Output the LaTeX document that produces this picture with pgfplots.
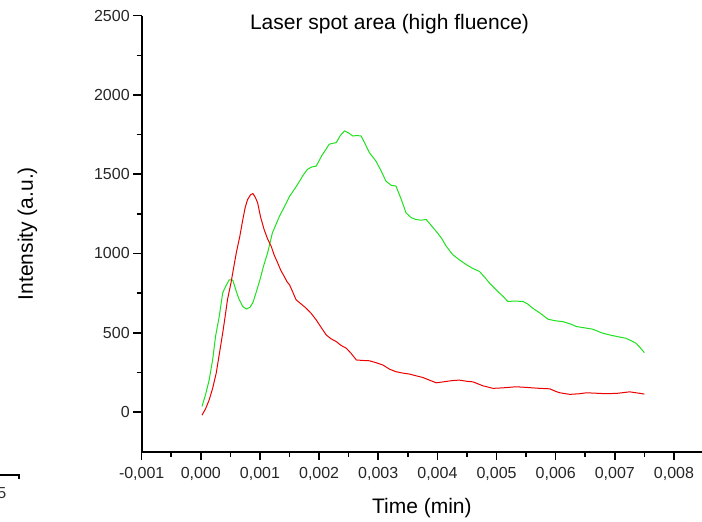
\documentclass[border=0pt]{standalone}
\usepackage{fontspec}
\setmainfont{Liberation Sans}
\usepackage{pgfplots}
\pgfplotsset{compat=1.18}
\definecolor{cgreen}{RGB}{30,225,30}
\definecolor{cred}{RGB}{235,0,0}
\begin{document}
\begin{tikzpicture}
\useasboundingbox (0,0) rectangle (702pt,522pt);
\begin{axis}[
  at={(141.7pt,70.4pt)}, anchor=south west,
  scale only axis, width=560.3pt, height=435.9pt,
  xmin=-0.001, xmax=0.008474, ymin=-250, ymax=2500,
  axis x line*=bottom, axis y line*=left,
  axis line style={-, line width=2pt},
  tick align=outside,
  major tick length=8.5pt, minor tick length=5pt,
  every tick/.style={black, line width=1.6pt},
  xtick={-0.001,0,0.001,0.002,0.003,0.004,0.005,0.006,0.007,0.008},
  xticklabels={{-0,001},{0,000},{0,001},{0,002},{0,003},{0,004},{0,005},{0,006},{0,007},{0,008}},
  minor x tick num=1,
  scaled x ticks=false,
  ytick={0,500,1000,1500,2000,2500},
  minor y tick num=1,
  yticklabel style={/pgf/number format/1000 sep={}},
  xticklabel style={yshift=-3.5pt},
  /pgf/number format/assume math mode=true,
  ticklabel style={font=\fontsize{16}{18}\selectfont, text=black!85},
  xlabel={Time (min)}, ylabel={Intensity (a.u.)},
  label style={font=\fontsize{21}{24}\selectfont},
  xlabel style={at={(axis description cs:0.5,-0.1271)}, anchor=center, yshift=-1.5pt},
  ylabel style={at={(axis description cs:-0.2038,0.5)}, anchor=center},
  title={Laser spot area (high fluence)},
  every axis title/.style={font=\fontsize{21}{24}\selectfont, at={(axis description cs:0.4423,0.9672)}, anchor=base},
  clip=false,
]
\addplot[cgreen, line width=1pt] coordinates {
(0.00002,35)(0.00008,110)(0.00014,200)(0.00020,330)(0.00025,480)(0.00031,600)
(0.00037,752)(0.00043,800)(0.00048,834)(0.00054,832)(0.00060,760)(0.00065,708)
(0.00071,665)(0.00077,649)(0.00083,660)(0.00088,690)(0.00094,760)(0.00100,835)
(0.00106,920)(0.00113,1005)(0.00121,1130)(0.00133,1235)(0.00142,1300)(0.00150,1360)
(0.00160,1415)(0.00167,1456)(0.00172,1488)(0.00180,1530)(0.00187,1545)(0.00195,1551)
(0.00205,1620)(0.00212,1660)(0.00217,1689)(0.00223,1695)(0.00229,1699)(0.00236,1745)
(0.00243,1773)(0.00250,1760)(0.00257,1741)(0.00264,1744)(0.00271,1741)(0.00278,1690)
(0.00285,1636)(0.00296,1583)(0.00305,1520)(0.00313,1456)(0.00322,1430)(0.00330,1425)
(0.00339,1340)(0.00347,1256)(0.00356,1225)(0.00364,1214)(0.00372,1210)(0.00381,1214)
(0.00390,1175)(0.00400,1130)(0.00408,1090)(0.00415,1045)(0.00426,992)(0.00437,960)
(0.00449,929)(0.00460,905)(0.00471,887)(0.00480,850)(0.00488,813)(0.00497,780)
(0.00505,750)(0.00512,725)(0.00519,697)(0.00530,700)(0.00545,697)(0.00553,680)
(0.00561,655)(0.00575,620)(0.00587,585)(0.00600,575)(0.00612,570)(0.00625,555)
(0.00635,539)(0.00650,530)(0.00663,522)(0.00677,500)(0.00691,486)(0.00705,475)
(0.00719,465)(0.00730,445)(0.00736,433)(0.00743,405)(0.00750,374)
};
\addplot[cred, line width=1pt] coordinates {
(0.00002,-20)(0.00008,20)(0.00014,75)(0.00020,150)(0.00026,245)(0.00031,360)
(0.00037,499)(0.00041,600)(0.00045,708)(0.00051,815)(0.00055,900)(0.00060,1005)
(0.00066,1110)(0.00071,1214)(0.00075,1290)(0.00079,1340)(0.00084,1370)(0.00088,1378)
(0.00092,1355)(0.00096,1320)(0.00101,1230)(0.00107,1151)(0.00113,1090)(0.00119,1045)
(0.00124,990)(0.00130,940)(0.00135,895)(0.00141,855)(0.00146,820)(0.00150,802)
(0.00155,760)(0.00161,708)(0.00170,680)(0.00178,655)(0.00187,620)(0.00195,581)
(0.00204,530)(0.00212,486)(0.00220,462)(0.00229,444)(0.00237,420)(0.00246,402)
(0.00254,370)(0.00263,328)(0.00274,325)(0.00285,323)(0.00297,310)(0.00308,296)
(0.00319,270)(0.00330,254)(0.00342,245)(0.00353,239)(0.00364,228)(0.00375,218)
(0.00387,200)(0.00398,184)(0.00410,190)(0.00425,198)(0.00437,201)(0.00449,194)
(0.00460,190)(0.00477,165)(0.00494,149)(0.00510,152)(0.00533,159)(0.00550,155)
(0.00573,149)(0.00590,146)(0.00600,130)(0.00607,121)(0.00624,111)(0.00640,115)
(0.00652,121)(0.00670,118)(0.00686,115)(0.00705,118)(0.00725,127)(0.00738,120)
(0.00750,113)
};
\end{axis}
% cropped fragment of a neighbouring figure at the lower left
\draw[black, line width=1.2pt] (0pt,47pt) -- (19pt,47pt) -- (19pt,42.5pt);
\node[font=\fontsize{16}{18}\selectfont, text=black!80, anchor=base east, inner sep=0pt] at (6.5pt,23.5pt) {5};
\end{tikzpicture}
\end{document}
